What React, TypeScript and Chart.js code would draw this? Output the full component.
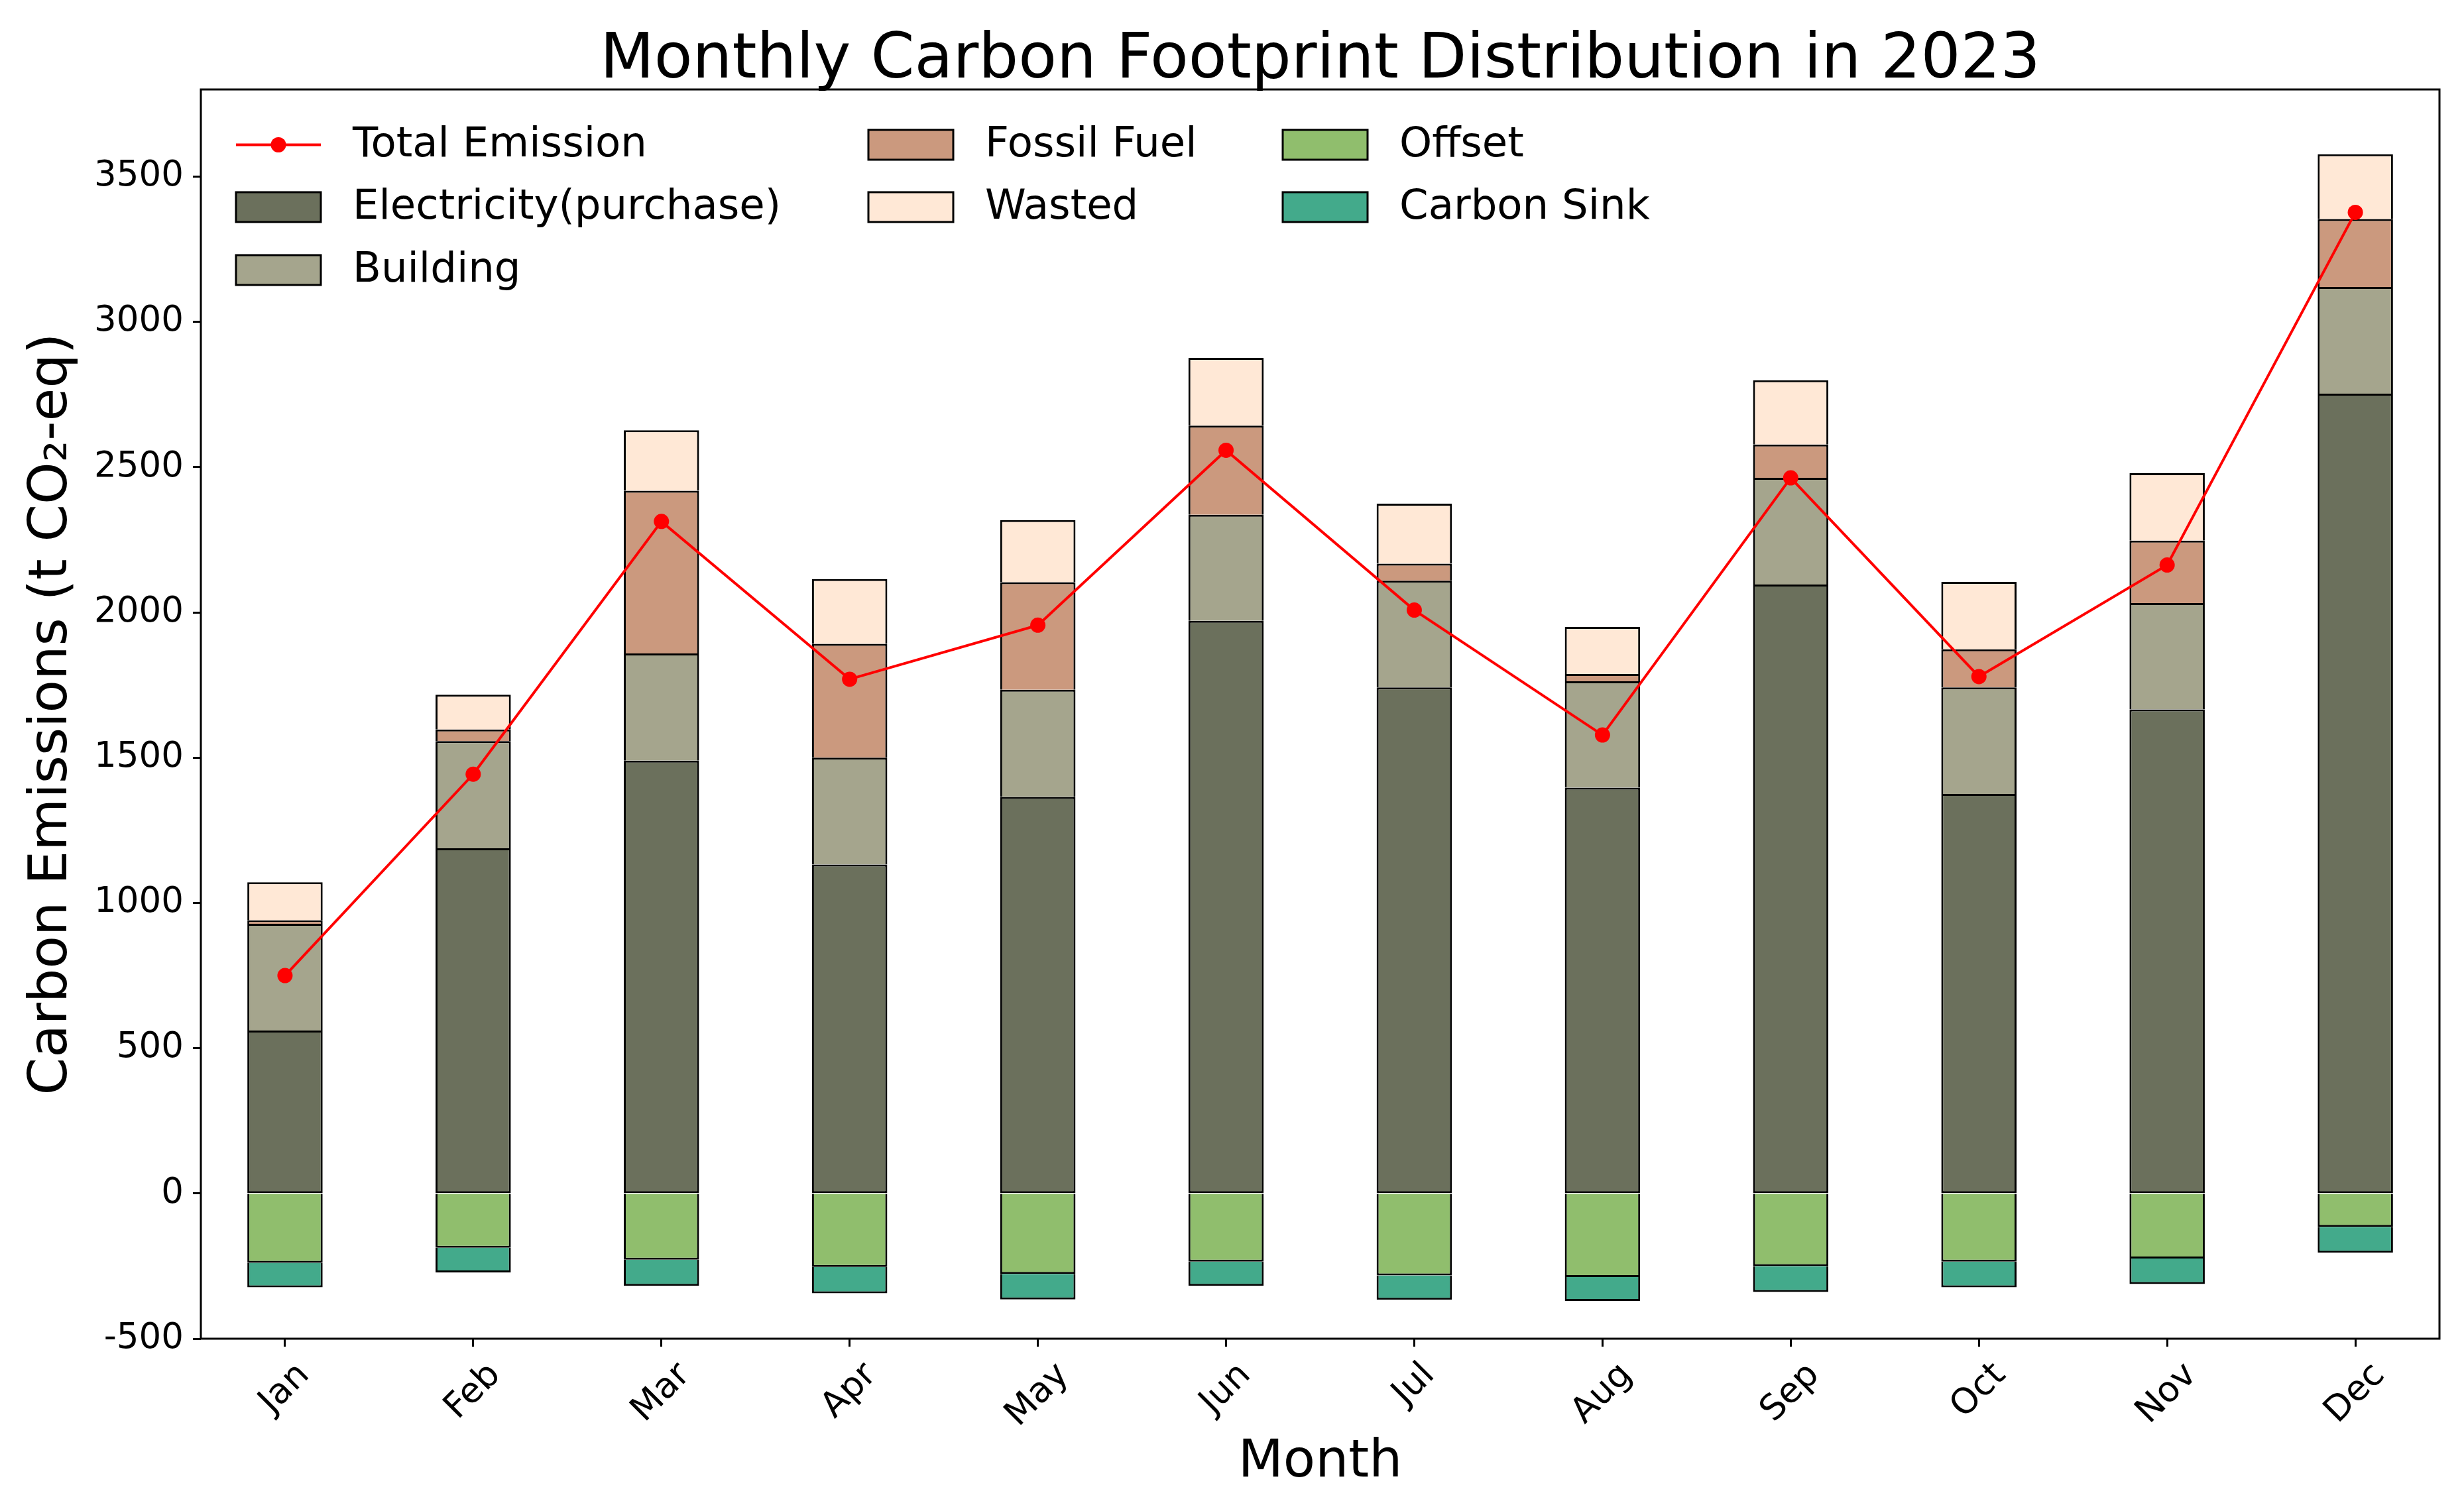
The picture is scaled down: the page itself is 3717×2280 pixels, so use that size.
import React, { useRef, useEffect } from 'react';
import { Chart, registerables } from 'chart.js';

Chart.register(...registerables);

const months = ['Jan', 'Feb', 'Mar', 'Apr', 'May', 'Jun', 'Jul', 'Aug', 'Sep', 'Oct', 'Nov', 'Dec'];

const electricity = [561, 1188, 1490, 1132, 1365, 1971, 1742, 1397, 2096, 1375, 1666, 2753];
const building = [367, 369, 369, 368, 369, 365, 367, 366, 367, 367, 366, 367];
const fossilFuel = [12, 40, 560, 392, 370, 307, 59, 25, 115, 131, 215, 234];
const wasted = [131, 120, 208, 223, 214, 233, 206, 162, 221, 232, 232, 223];
const offset = [-239, -187, -228, -253, -277, -235, -282, -288, -250, -235, -224, -115];
const carbonSink = [-84, -85, -90, -91, -88, -83, -84, -82, -89, -88, -88, -89];
const totalEmission = [750, 1443, 2313, 1770, 1956, 2558, 2008, 1578, 2463, 1779, 2163, 3377];

const yTicks = [-500, 0, 500, 1000, 1500, 2000, 2500, 3000, 3500];

const W = 3717;
const H = 2280;
const FONT = "'DejaVu Sans', 'Liberation Sans', sans-serif";
const EDGE = 3;

const barSeries = [
    { label: 'Electricity(purchase)', data: electricity, color: '#6b705c', skip: false },
    { label: 'Building', data: building, color: '#a5a58d', skip: 'start' },
    { label: 'Fossil Fuel', data: fossilFuel, color: '#cb997e', skip: 'start' },
    { label: 'Wasted', data: wasted, color: '#ffe8d6', skip: 'start' },
    { label: 'Offset', data: offset, color: '#90be6d', skip: 'start' },
    { label: 'Carbon Sink', data: carbonSink, color: '#43aa8b', skip: 'start' },
];

// legend layout: three columns, filled like matplotlib (3, 2, 2)
const legendColumns = [[0, 1, 2], [3, 4], [5, 6]];
const legendHandleX = [356, 1310, 1935];
const legendRowY = [218.5, 312.5, 407.5];
const handleW = 128;
const handleH = 45;

const extrasPlugin = {
    id: 'extras',
    afterDraw(chart: any) {
        const { ctx, chartArea } = chart;
        const xScale = chart.scales.x;

        ctx.save();
        // frame
        ctx.strokeStyle = '#000';
        ctx.lineWidth = EDGE;
        ctx.strokeRect(chartArea.left, chartArea.top, chartArea.right - chartArea.left, chartArea.bottom - chartArea.top);

        // title
        ctx.fillStyle = '#000';
        ctx.font = `94.5px ${FONT}`;
        ctx.textAlign = 'center';
        ctx.textBaseline = 'alphabetic';
        ctx.fillText('Monthly Carbon Footprint Distribution in 2023', (chartArea.left + chartArea.right) / 2, 117);

        // rotated month labels, centred on the tick
        const fs = 53;
        ctx.font = `${fs}px ${FONT}`;
        ctx.textBaseline = 'middle';
        months.forEach((m, i) => {
            const x = xScale.getPixelForValue(i);
            const w = ctx.measureText(m).width;
            const boxH = (w + fs * 1.164) / Math.SQRT2;
            const cy = chartArea.bottom + 25 + boxH / 2;
            ctx.save();
            ctx.translate(x, cy);
            ctx.rotate(-Math.PI / 4);
            ctx.fillText(m, 0, 0);
            ctx.restore();
        });

        // legend
        const items = [
            { label: 'Total Emission', color: 'red', line: true },
            ...barSeries.map(s => ({ label: s.label, color: s.color, line: false })),
        ];
        ctx.font = `62.5px ${FONT}`;
        ctx.textAlign = 'left';
        ctx.textBaseline = 'middle';
        legendColumns.forEach((col, c) => {
            col.forEach((idx, row) => {
                const it = items[idx];
                const hx = legendHandleX[c];
                const cy = legendRowY[row];
                if (it.line) {
                    ctx.strokeStyle = it.color;
                    ctx.lineWidth = 4;
                    ctx.beginPath();
                    ctx.moveTo(hx, cy);
                    ctx.lineTo(hx + handleW, cy);
                    ctx.stroke();
                    ctx.fillStyle = it.color;
                    ctx.beginPath();
                    ctx.arc(hx + handleW / 2, cy, 11.5, 0, Math.PI * 2);
                    ctx.fill();
                } else {
                    ctx.fillStyle = it.color;
                    ctx.fillRect(hx, cy - handleH / 2, handleW, handleH);
                    ctx.strokeStyle = '#000';
                    ctx.lineWidth = EDGE;
                    ctx.strokeRect(hx, cy - handleH / 2, handleW, handleH);
                }
                ctx.fillStyle = '#000';
                ctx.fillText(it.label, hx + handleW + 48, cy + 1);
            });
        });
        ctx.restore();
    },
};

const App: React.FC = () => {
    const canvasRef = useRef<HTMLCanvasElement | null>(null);
    const chartRef = useRef<Chart | null>(null);

    useEffect(() => {
        document.body.style.margin = '0';
        document.body.style.overflow = 'hidden';
        if (!canvasRef.current) return;
        const ctx = canvasRef.current.getContext('2d');
        if (!ctx) return;

        const datasets: any[] = [
            {
                type: 'line',
                label: 'Total Emission',
                data: totalEmission.map((v, i) => ({ x: i, y: v })),
                borderColor: 'red',
                backgroundColor: 'red',
                borderWidth: 4,
                pointRadius: 11.5,
                pointBorderWidth: 0,
                pointBackgroundColor: 'red',
                stack: 'total',
                order: 0,
            },
            ...barSeries.map(s => ({
                type: 'bar',
                label: s.label,
                data: s.data.map((v, i) => ({ x: i, y: v })),
                backgroundColor: s.color,
                borderColor: '#000',
                borderWidth: EDGE,
                borderSkipped: s.skip,
                barPercentage: 0.4,
                categoryPercentage: 1,
                order: 1,
            })),
        ];

        const tickGrid = {
            display: true,
            drawOnChartArea: false,
            drawTicks: true,
            tickLength: 12,
            tickWidth: EDGE,
            tickColor: '#000',
            offset: false,
        };

        chartRef.current = new Chart(ctx, {
            type: 'bar',
            data: { datasets },
            options: {
                responsive: false,
                animation: false,
                devicePixelRatio: 1,
                layout: { padding: { left: 0, top: 135, right: 37, bottom: 0 } },
                plugins: {
                    legend: { display: false },
                    title: { display: false },
                    tooltip: { enabled: false },
                },
                scales: {
                    x: {
                        type: 'linear',
                        min: -0.447,
                        max: 11.447,
                        stacked: true,
                        offset: false,
                        afterBuildTicks: (scale: any) => {
                            scale.ticks = months.map((_, i) => ({ value: i }));
                        },
                        afterFit: (scale: any) => {
                            scale.height = 260;
                        },
                        ticks: { display: false },
                        grid: tickGrid,
                        border: { display: false },
                        title: {
                            display: true,
                            text: 'Month',
                            color: '#000',
                            font: { family: FONT, size: 79 },
                            padding: { top: 0, bottom: 25 },
                        },
                    },
                    y: {
                        type: 'linear',
                        min: -500,
                        max: 3800,
                        stacked: true,
                        afterBuildTicks: (scale: any) => {
                            scale.ticks = yTicks.map(v => ({ value: v }));
                        },
                        afterFit: (scale: any) => {
                            scale.width = 303;
                        },
                        ticks: {
                            color: '#000',
                            font: { family: FONT, size: 53 },
                            padding: 14,
                            callback: (value: any) => String(value),
                        },
                        grid: tickGrid,
                        border: { display: false },
                        title: {
                            display: true,
                            text: 'Carbon Emissions (t CO₂-eq)',
                            color: '#000',
                            font: { family: FONT, size: 81 },
                            padding: { top: 30, bottom: 0 },
                        },
                    },
                },
            },
            plugins: [extrasPlugin],
        } as any);

        return () => {
            if (chartRef.current) {
                chartRef.current.destroy();
                chartRef.current = null;
            }
        };
    }, []);

    return (
        <div style={{ width: W, height: H, overflow: 'hidden', background: '#fff' }}>
            <canvas ref={canvasRef} width={W} height={H} style={{ display: 'block', width: W, height: H }} />
        </div>
    );
};

export default App;
